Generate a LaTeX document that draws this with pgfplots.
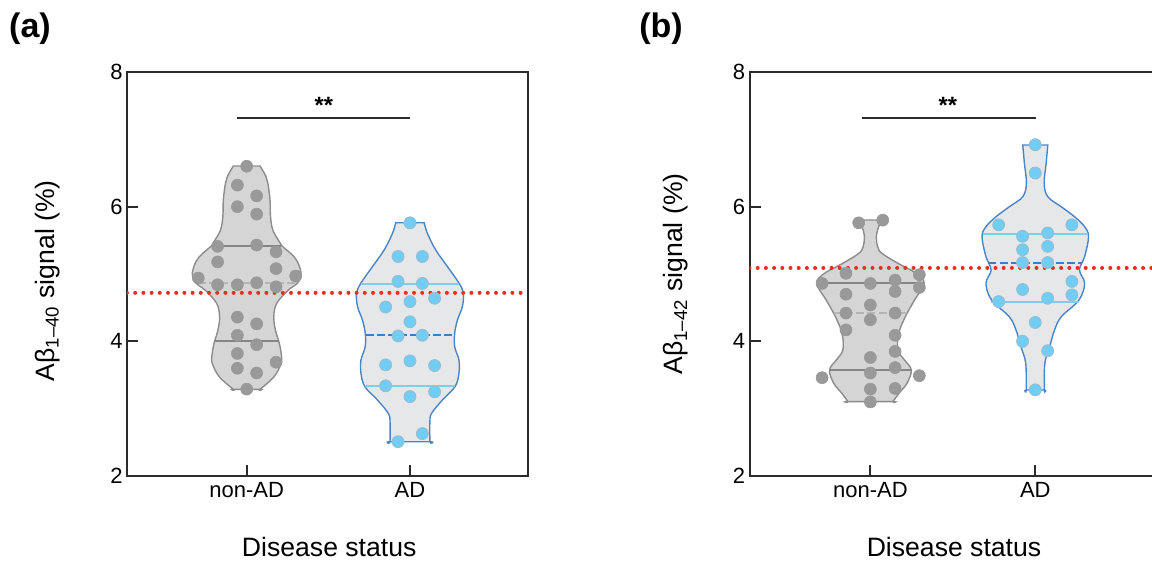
\documentclass[border=0pt]{standalone}
\usepackage{pgfplots}
\usepackage{pgfplotstable}
\pgfplotsset{compat=1.18}
\usepackage{fontspec}
\setmainfont{Liberation Sans}

\definecolor{axc}{HTML}{2B2B2B}
\definecolor{ngfill}{HTML}{D5D5D5}
\definecolor{ngline}{HTML}{8C8C8C}
\definecolor{ngdot}{HTML}{999999}
\definecolor{ngq}{HTML}{858585}
\definecolor{ngmed}{HTML}{B5B5B5}
\definecolor{adfill}{HTML}{E6E7E8}
\definecolor{adline}{HTML}{4A86C5}
\definecolor{addot}{HTML}{72CDF4}
\definecolor{addotedge}{HTML}{9BBCCD}
\definecolor{adq}{HTML}{80CCEE}
\definecolor{admed}{HTML}{3D7EC3}
\definecolor{cutred}{HTML}{E2311D}

% individual measurements, Abeta 1-40
\pgfplotstableread{
x y
0 6.60
-0.057 6.32
0.061 6.16
-0.057 6.00
0.061 5.89
-0.178 5.41
0.061 5.43
0.180 5.33
-0.178 5.18
0.180 5.08
-0.296 4.94
0.300 4.97
-0.178 4.84
-0.057 4.84
0.061 4.87
0.180 4.81
-0.057 4.36
0.061 4.26
-0.057 4.09
0.061 3.95
-0.057 3.82
0.180 3.69
-0.057 3.60
0.061 3.53
0 3.29
}\fortyNon
\pgfplotstableread{
x y
1 5.76
0.927 5.26
1.076 5.26
0.927 4.89
1.076 4.86
1 4.59
0.851 4.51
1.151 4.64
1 4.29
0.927 4.08
1.076 4.09
0.851 3.65
1 3.71
1.151 3.64
0.851 3.34
1 3.18
1.151 3.25
1.076 2.63
0.927 2.51
}\fortyAD

% individual measurements, Abeta 1-42
\pgfplotstableread{
x y
-0.071 5.76
0.075 5.80
-0.148 5.01
0.297 4.99
-0.293 4.86
0 4.86
0.150 4.91
0.297 4.80
-0.148 4.70
0.150 4.74
0 4.54
-0.148 4.42
0.150 4.42
0 4.32
-0.148 4.17
0.150 4.09
0.150 3.85
0 3.76
0.150 3.61
0 3.53
-0.293 3.46
0.297 3.49
0 3.29
0.150 3.30
0 3.10
}\fortytwoNon
\pgfplotstableread{
x y
1 6.92
1 6.50
0.778 5.73
1.222 5.73
0.923 5.56
1.075 5.61
0.923 5.36
1.075 5.41
0.923 5.17
1.075 5.17
1.222 4.89
0.923 4.77
1.222 4.69
0.778 4.59
1.075 4.64
1 4.28
0.923 4.00
1.075 3.86
1 3.28
}\fortytwoAD

\pgfplotsset{
  violinaxis/.style={
    scale only axis, anchor=south west, height=202pt,
    xmin=-0.733, xmax=1.723, ymin=2, ymax=8,
    xtick={0,1}, xticklabels={non-AD,AD}, ytick={2,4,6,8},
    tick align=inside, xtick pos=bottom, ytick pos=left,
    major tick length=5.5pt,
    axis line style={draw=axc, line width=1pt},
    tick style={draw=axc, line width=1pt},
    /pgf/number format/assume math mode=true,
    ticklabel style={font=\fontsize{11}{13}\selectfont},
    yticklabel style={inner sep=0pt, xshift=-2pt},
    xticklabel style={anchor=base, inner sep=0pt, yshift=-10.65pt},
  },
  ngviolin/.style={smooth, tension=0.6, fill=ngfill, draw=ngline, line width=0.7pt},
  adviolin/.style={smooth, tension=0.6, fill=adfill, draw=adline, line width=0.7pt},
  ngquart/.style={draw=ngq, line width=1pt},
  ngmedian/.style={draw=ngmed, line width=1pt, dash pattern=on 4pt off 1.6pt},
  adquart/.style={draw=adq, line width=1pt},
  admedian/.style={draw=admed, line width=1pt, dash pattern=on 4pt off 1.6pt},
  ngdots/.style={only marks, mark=*, mark size=3pt, mark options={fill=ngdot, draw=ngdot, line width=0.3pt}},
  addots/.style={only marks, mark=*, mark size=3pt, mark options={fill=addot, draw=addotedge, line width=0.4pt}},
  cutoff/.style={draw=cutred, line width=2pt, line cap=round, dash pattern=on 0pt off 4.1pt},
  sigbar/.style={draw=axc, line width=1pt},
}

\begin{document}
\begin{tikzpicture}

% ---------------- (a) Abeta 1-40 ----------------
\begin{axis}[violinaxis, at={(63.5pt,44pt)}, width=200.5pt]
  \addplot[ngviolin] coordinates {
    (-0.082,6.604) (-0.118,6.45) (-0.130,6.347) (-0.143,6.099) (-0.146,5.851)
    (-0.160,5.654) (-0.195,5.50) (-0.215,5.42) (-0.290,5.257) (-0.325,5.10)
    (-0.332,4.960) (-0.305,4.85) (-0.255,4.762) (-0.184,4.565) (-0.166,4.366)
    (-0.176,4.168) (-0.200,3.971) (-0.212,3.80) (-0.211,3.674) (-0.168,3.475)
    (-0.082,3.287) (-0.082,3.287)
    (0.082,3.287) (0.082,3.287) (0.168,3.475) (0.211,3.674) (0.212,3.80)
    (0.200,3.971) (0.176,4.168) (0.166,4.366) (0.184,4.565) (0.255,4.762)
    (0.305,4.85) (0.332,4.960) (0.325,5.10) (0.290,5.257) (0.215,5.42)
    (0.195,5.50) (0.160,5.654) (0.146,5.851) (0.143,6.099) (0.130,6.347)
    (0.118,6.45) (0.082,6.604)
  } -- cycle;
  \addplot[adviolin] coordinates {
    (0.913,5.762) (0.893,5.604) (0.842,5.357) (0.770,5.109) (0.699,4.862)
    (0.673,4.713) (0.679,4.515) (0.709,4.317) (0.726,4.119) (0.726,3.920)
    (0.700,3.723) (0.700,3.525) (0.724,3.327) (0.801,3.129) (0.867,2.931)
    (0.878,2.80) (0.878,2.509) (0.878,2.509)
    (1.122,2.509) (1.122,2.509) (1.122,2.80) (1.133,2.931) (1.199,3.129)
    (1.276,3.327) (1.300,3.525) (1.300,3.723) (1.274,3.920) (1.274,4.119)
    (1.291,4.317) (1.321,4.515) (1.327,4.713) (1.301,4.862) (1.230,5.109)
    (1.158,5.357) (1.107,5.604) (1.087,5.762)
  } -- cycle;
  % quartiles and medians
  \addplot[ngquart] coordinates {(-0.21,5.42) (0.21,5.42)};
  \addplot[ngmedian] coordinates {(-0.30,4.87) (0.30,4.87)};
  \addplot[ngquart] coordinates {(-0.195,4.01) (0.195,4.01)};
  \addplot[adquart] coordinates {(0.70,4.85) (1.30,4.85)};
  \addplot[admedian] coordinates {(0.728,4.09) (1.272,4.09)};
  \addplot[adquart] coordinates {(0.725,3.34) (1.275,3.34)};
  % individual points
  \addplot[ngdots] table {\fortyNon};
  \addplot[addots] table {\fortyAD};
  % cut-off
  \addplot[cutoff] coordinates {(-0.733,4.72) (1.723,4.72)};
  % significance
  \addplot[sigbar] coordinates {(-0.06,7.31) (1.0,7.31)};
  \node[anchor=base, font=\bfseries\fontsize{11.8}{13}\selectfont, inner sep=0pt] at (axis cs:0.473,7.39) {**};
\end{axis}

% ---------------- (b) Abeta 1-42 ----------------
\begin{axis}[violinaxis, at={(374.75pt,44pt)}, width=202.5pt]
  \addplot[ngviolin] coordinates {
    (-0.071,5.802) (-0.050,5.70) (-0.036,5.55) (-0.045,5.40) (-0.070,5.307)
    (-0.167,5.159) (-0.278,5.010) (-0.326,4.862) (-0.268,4.614) (-0.212,4.366)
    (-0.172,4.119) (-0.167,3.871) (-0.207,3.723) (-0.248,3.574) (-0.222,3.377)
    (-0.177,3.24) (-0.136,3.104) (-0.136,3.104)
    (0.136,3.104) (0.136,3.104) (0.177,3.24) (0.222,3.377) (0.248,3.574)
    (0.207,3.723) (0.167,3.871) (0.172,4.119) (0.212,4.366) (0.268,4.614)
    (0.326,4.862) (0.278,5.010) (0.167,5.159) (0.070,5.307) (0.045,5.40)
    (0.036,5.55) (0.050,5.70) (0.071,5.802)
  } -- cycle;
  \addplot[adviolin] coordinates {
    (0.924,6.916) (0.934,6.644) (0.946,6.347) (0.924,6.148) (0.843,6.000)
    (0.762,5.851) (0.701,5.703) (0.677,5.554) (0.701,5.257) (0.732,5.059)
    (0.701,4.862) (0.735,4.614) (0.842,4.366) (0.883,4.168) (0.913,3.920)
    (0.942,3.674) (0.945,3.277) (0.945,3.277)
    (1.055,3.277) (1.055,3.277) (1.058,3.674) (1.087,3.920) (1.117,4.168)
    (1.158,4.366) (1.265,4.614) (1.299,4.862) (1.268,5.059) (1.299,5.257)
    (1.323,5.554) (1.299,5.703) (1.238,5.851) (1.157,6.000) (1.076,6.148)
    (1.054,6.347) (1.066,6.644) (1.076,6.916)
  } -- cycle;
  \addplot[ngquart] coordinates {(-0.325,4.86) (0.325,4.86)};
  \addplot[ngmedian] coordinates {(-0.222,4.42) (0.222,4.42)};
  \addplot[ngquart] coordinates {(-0.246,3.57) (0.246,3.57)};
  \addplot[adquart] coordinates {(0.684,5.60) (1.316,5.60)};
  \addplot[admedian] coordinates {(0.716,5.16) (1.284,5.16)};
  \addplot[adquart] coordinates {(0.732,4.59) (1.268,4.59)};
  \addplot[ngdots] table {\fortytwoNon};
  \addplot[addots] table {\fortytwoAD};
  \addplot[cutoff] coordinates {(-0.733,5.09) (1.723,5.09)};
  \addplot[sigbar] coordinates {(-0.051,7.31) (1.004,7.31)};
  \node[anchor=base, font=\bfseries\fontsize{11.8}{13}\selectfont, inner sep=0pt] at (axis cs:0.47,7.39) {**};
\end{axis}

% panel letters and axis titles
\node[font=\bfseries\fontsize{17}{20}\selectfont] at (15pt,267.5pt) {(a)};
\node[font=\bfseries\fontsize{17}{20}\selectfont] at (330.5pt,267.5pt) {(b)};
\node[rotate=90, font=\fontsize{13.3}{16}\selectfont] at (23.75pt,141.6pt) {Aβ\textsubscript{1–40} signal (\%)};
\node[rotate=90, font=\fontsize{13.3}{16}\selectfont] at (338pt,145pt) {Aβ\textsubscript{1–42} signal (\%)};
\node[anchor=base, font=\fontsize{13.3}{16}\selectfont] at (164.6pt,4pt) {Disease status};
\node[anchor=base, font=\fontsize{13.3}{16}\selectfont] at (477pt,4pt) {Disease status};

\pgfresetboundingbox
\path[use as bounding box] (0,0) rectangle (576pt,282pt);
\end{tikzpicture}
\end{document}
